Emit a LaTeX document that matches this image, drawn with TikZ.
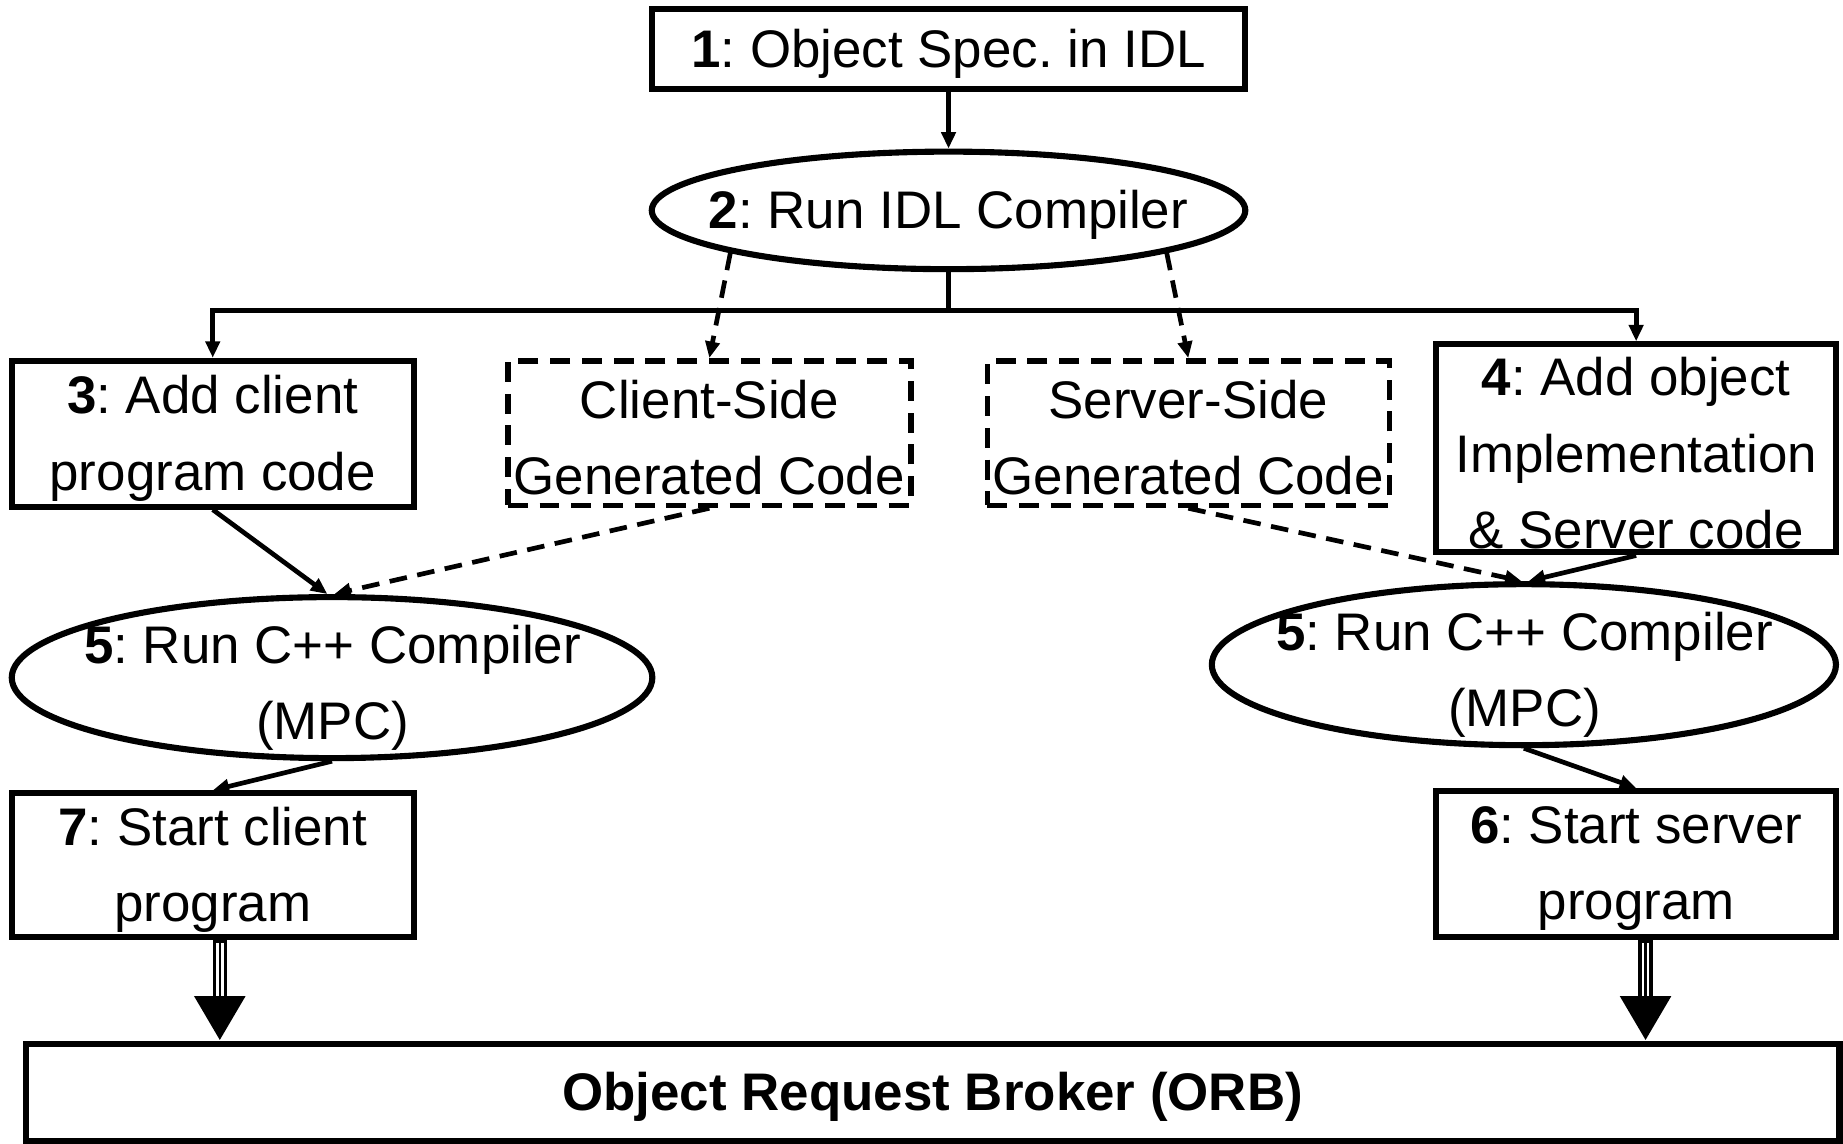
\documentclass[tikz,border=0pt]{standalone}
\usepackage{fontspec}
\setmainfont{Liberation Sans}
\usetikzlibrary{arrows.meta,shapes.geometric}
\frenchspacing

\begin{document}
\begin{tikzpicture}[x=0.5pt,y=-0.5pt,
  every node/.style={font=\fontsize{22.5}{32.5}\selectfont},
  box/.style={draw,line width=2.6pt,rectangle,inner sep=0pt},
  genbox/.style={draw,line width=2.4pt,dash pattern=on 8.5pt off 5pt,rectangle,inner sep=0pt},
  oval/.style={draw,line width=2.6pt,ellipse,inner sep=0pt},
  txt/.style={align=center,inner sep=0pt,yshift=-2pt},
  conn/.style={line width=2pt,-{Triangle[length=7pt,width=6pt]}},
  dconn/.style={conn,dash pattern=on 7.5pt off 4.5pt},
  bigarrow/.style={line width=6.2pt,-{Triangle[length=19pt,width=20.5pt]}},
]
\useasboundingbox (0,0) rectangle (1568,973);

% step nodes
\node[box,minimum width=252pt,minimum height=34pt] (b1) at (807,42) {};
\node[txt] (t1) at (b1) {\textbf{1}: Object Spec. in IDL};

\node[oval,minimum width=252.5pt,minimum height=50pt] (e2) at (807,179) {};
\node[txt] (t2) at (e2) {\textbf{2}: Run IDL Compiler};

\node[box,minimum width=171pt,minimum height=62pt] (b3) at (181,369) {};
\node[txt] (t3) at (b3) {\textbf{3}: Add client\\program code};

\node[genbox,minimum width=171.5pt,minimum height=61.5pt] (cs) at (603.5,368.5) {};
\node[txt] (tcs) at (cs) {Client-Side\\Generated Code};

\node[genbox,minimum width=171pt,minimum height=61.5pt] (ss) at (1011,368.5) {};
\node[txt] (tss) at (ss) {Server-Side\\Generated Code};

\node[box,minimum width=170pt,minimum height=88.5pt] (b4) at (1392,381.5) {};
\node[txt] (t4) at (b4) {\textbf{4}: Add object\\Implementation\\\&\ Server code};

\node[oval,minimum width=272.5pt,minimum height=68.5pt] (e5l) at (282.5,576.5) {};
\node[txt] (t5l) at (283,581) {\textbf{5}: Run C++ Compiler\\(MPC)};

\node[oval,minimum width=265.5pt,minimum height=68.5pt] (e5r) at (1296.5,565.5) {};
\node[txt] (t5r) at (1297,570) {\textbf{5}: Run C++ Compiler\\(MPC)};

\node[box,minimum width=171pt,minimum height=61pt] (b7) at (181,736) {};
\node[txt] (t7) at (b7) {\textbf{7}: Start client\\program};

\node[box,minimum width=170pt,minimum height=62pt] (b6) at (1392,735) {};
\node[txt] (t6) at (b6) {\textbf{6}: Start server\\program};

\node[box,minimum width=771.5pt,minimum height=41.5pt] (orb) at (793.5,929.5) {};
\node[txt] (torb) at (orb) {\textbf{Object Request Broker (ORB)}};

% IDL compilation
\draw[conn] (b1) -- (e2);
\coordinate (split) at (807,264);
\draw[line width=2pt] (e2.south) -- (split);
\draw[conn] (split) -| (b3.north);
\draw[conn] (split) -| (b4.north);
\draw[dconn] (e2.191) -- (cs.north);
\draw[dconn] (e2.349) -- (ss.north);

% C++ compilation
\draw[conn] (b3.south) -- ([xshift=-2pt]e5l.north);
\draw[dconn] (cs.south) -- ([xshift=1pt]e5l.north);
\draw[dconn] (ss.south) -- ([xshift=-1pt]e5r.north);
\draw[conn] (b4.south) -- ([xshift=2pt]e5r.north);
\draw[conn] (e5l.south) -- (b7.north);
\draw[conn] (e5r.south) -- (b6.north);

% programs attach to the ORB
\foreach \src/\dx in {b7/3pt,b6/4pt}{
  \draw[bigarrow] ([xshift=\dx]\src.south) -- ([xshift=\dx]\src.south |- orb.north);
  \draw[white,line width=3.2pt,shorten <=1.3pt,shorten >=19pt] ([xshift=\dx]\src.south) -- ([xshift=\dx]\src.south |- orb.north);
  \draw[line width=1pt,shorten >=19pt] ([xshift=\dx]\src.south) -- ([xshift=\dx]\src.south |- orb.north);
}
\end{tikzpicture}
\end{document}
